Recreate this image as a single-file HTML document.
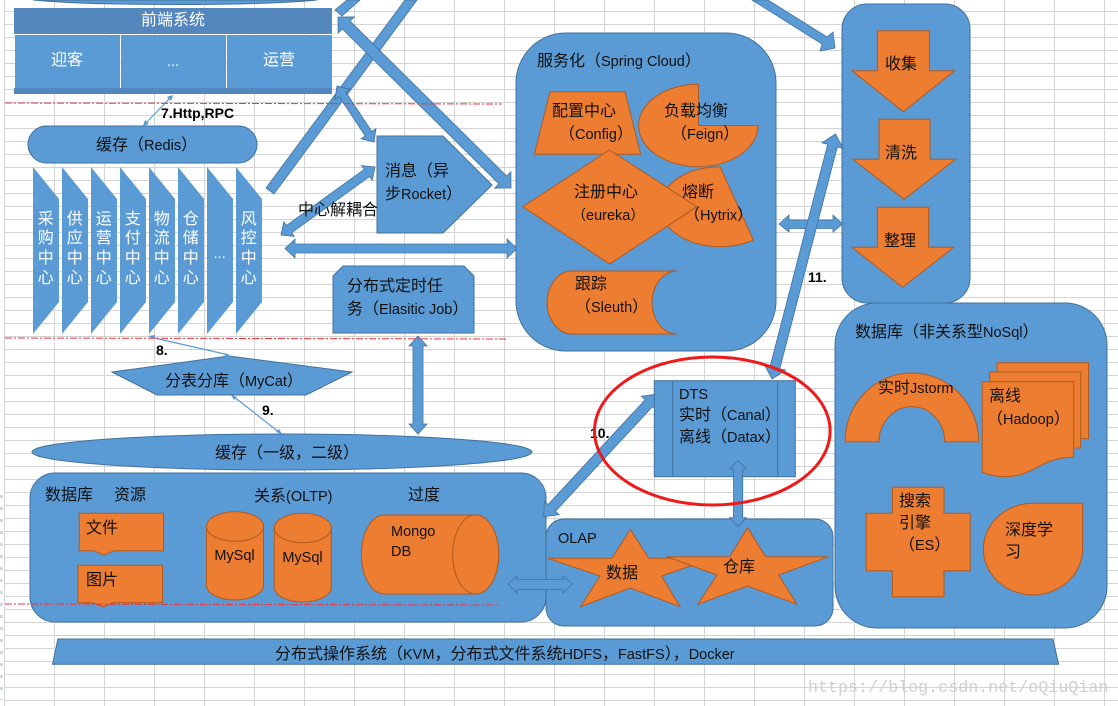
<!DOCTYPE html>
<html><head><meta charset="utf-8"><title>架构图</title>
<style>
html,body{margin:0;padding:0;background:#fff;width:1118px;height:706px;overflow:hidden}
svg{display:block}
text{font-family:"Liberation Sans","Noto Sans CJK SC",sans-serif;font-size:16px;fill:#111}
.l{font-size:14.5px}
.w{fill:#fff}
.c{text-anchor:middle}
.b{font-weight:bold;font-size:14px;fill:#000}
.s{fill:#5b9bd5;stroke:#41719c;stroke-width:1}
.o{fill:#ed7d31;stroke:#ae5a21;stroke-width:1}
.a{fill:#5b9bd5;stroke:#41719c;stroke-width:.8}
.t{fill:none;stroke:#5b9bd5;stroke-width:1.2}
.h{fill:#5b9bd5}
.r{fill:none;stroke:#f4323c;stroke-width:1;stroke-dasharray:7 2 2 2}
</style></head><body>
<svg width="1118" height="706" viewBox="0 0 1118 706" xmlns="http://www.w3.org/2000/svg">
<defs><pattern id="g" x="4" y="11" width="50" height="13" patternUnits="userSpaceOnUse"><path d="M0 .5H50M.5 0V13" stroke="#d4d4d4" fill="none"/></pattern></defs>
<rect width="1118" height="706" fill="#fff"/>
<rect x="4" y="0" width="1114" height="706" fill="url(#g)"/>
<path d="M1.5 495V700" stroke="#a8cbe8" stroke-width="2" stroke-dasharray="3 9"/>

<!-- top remnant -->
<path d="M33 0Q80 4.5 175 4.5T317 0Z" class="s"/>

<!-- front-end -->
<rect x="14" y="8" width="318" height="26" fill="#5487bd"/>
<rect x="15" y="35" width="105" height="53" fill="#5b9bd5"/>
<rect x="121" y="35" width="105" height="53" fill="#5b9bd5"/>
<rect x="227" y="35" width="105" height="53" fill="#5b9bd5"/>
<rect x="14" y="88" width="318" height="6" fill="#5487bd"/>
<text x="173" y="25" class="c w">前端系统</text>
<text x="67" y="65" class="c w">迎客</text>
<text x="173" y="66" class="c w l">...</text>
<text x="279" y="65" class="c w">运营</text>

<!-- thin 7 -->
<path d="M144 125L172 96" class="t"/>
<path d="M143 126l2-6 4 4zM173 95l-6 2 4 4z" class="h"/>
<text x="161" y="118" class="b">7.Http,RPC</text>

<!-- big arrows left-centre -->
<polygon points="335,10 342,16 360,0 347,0" class="a"/>
<polygon points="266,188 274,194 417,0 405,0" class="a"/>
<polygon points="338,17 338.1,33.3 342.3,29 498.9,183.8 494.7,188.1 511,188 510.9,171.7 506.7,176 350.1,21.2 354.3,16.9" class="a"/>
<polygon points="337,86 335,99.3 339.2,96.5 365.2,135.9 361,138.7 374,142 376,128.7 371.8,131.5 345.8,92.1 350,89.3" class="a"/>

<!-- Redis -->
<rect x="28" y="126" width="229" height="37" rx="18.5" ry="18.5" class="s"/>
<text x="96" y="150">缓存（<tspan class="l">Redis</tspan>）</text>

<!-- vertical services -->
<g fill="#5b9bd5">
<polygon points="33,167 59,199 59,302 33,334"/>
<polygon points="62,167 88,199 88,302 62,334"/>
<polygon points="91,167 117,199 117,302 91,334"/>
<polygon points="120,167 146,199 146,302 120,334"/>
<polygon points="149,167 175,199 175,302 149,334"/>
<polygon points="178,167 204,199 204,302 178,334"/>
<polygon points="207,167 233,199 233,302 207,334"/>
<polygon points="236,167 262,199 262,302 236,334"/>
</g>
<g class="c">
<text x="45.7" class="c w"><tspan x="45.7" y="224">采</tspan><tspan x="45.7" y="243">购</tspan><tspan x="45.7" y="263">中</tspan><tspan x="45.7" y="283">心</tspan></text>
<text class="c w"><tspan x="74.7" y="224">供</tspan><tspan x="74.7" y="243">应</tspan><tspan x="74.7" y="263">中</tspan><tspan x="74.7" y="283">心</tspan></text>
<text class="c w"><tspan x="103.7" y="224">运</tspan><tspan x="103.7" y="243">营</tspan><tspan x="103.7" y="263">中</tspan><tspan x="103.7" y="283">心</tspan></text>
<text class="c w"><tspan x="132.7" y="224">支</tspan><tspan x="132.7" y="243">付</tspan><tspan x="132.7" y="263">中</tspan><tspan x="132.7" y="283">心</tspan></text>
<text class="c w"><tspan x="161.7" y="224">物</tspan><tspan x="161.7" y="243">流</tspan><tspan x="161.7" y="263">中</tspan><tspan x="161.7" y="283">心</tspan></text>
<text class="c w"><tspan x="190.7" y="224">仓</tspan><tspan x="190.7" y="243">储</tspan><tspan x="190.7" y="263">中</tspan><tspan x="190.7" y="283">心</tspan></text>
<text x="219.7" y="258" class="c w l">...</text>
<text class="c w"><tspan x="248.7" y="224">风</tspan><tspan x="248.7" y="243">控</tspan><tspan x="248.7" y="263">中</tspan><tspan x="248.7" y="283">心</tspan></text>
</g>

<!-- message -->
<polygon points="377,136 443,136 492,185 443,233 377,233" class="s"/>
<text x="385" y="176">消息（异</text>
<text x="385" y="199">步<tspan class="l">Rocket</tspan>）</text>
<polygon points="375,167 361.6,165.6 364.3,169.3 286.5,225.5 283.8,221.8 281,235 294.4,236.4 291.7,232.7 369.5,176.5 372.2,180.2" class="a"/>
<text x="298" y="215">中心解耦合</text>
<polygon points="285,248.5 295,239 295,244 507,244 507,239 517,248.5 507,258 507,253 295,253 295,258" class="a"/>

<!-- elastic job -->
<polygon points="343,266 464,266 474,276 474,333 333,333 333,276" class="s"/>
<text x="347" y="291">分布式定时任</text>
<text x="347" y="314">务（<tspan class="l">Elasitic Job</tspan>）</text>
<polygon points="418,336 427,346 423,346 423,424 427,424 418,434 409,424 413,424 413,346 409,346" class="a"/>

<!-- services -->
<rect x="516" y="33" width="260" height="318" rx="50" ry="50" class="s"/>
<text x="537" y="66">服务化（<tspan class="l">Spring Cloud</tspan>）</text>
<polygon points="550,91.7 625,91.7 640.6,154.3 534.4,154.3" class="o"/>
<text x="552" y="116">配置中心</text>
<text x="559" y="139">（<tspan class="l">Config</tspan>）</text>
<path d="M698.4 125.5V84.3A59.7 41.2 0 1 0 758 125.5Z" class="o"/>
<text x="664" y="116">负载均衡</text>
<text x="671" y="139">（<tspan class="l">Feign</tspan>）</text>
<path d="M720 166.7A60 40 0 1 0 753.4 240Z" class="o"/>
<polygon points="609.6,150 696.8,206.7 609.6,264 522.8,206.7" class="o"/>
<text x="574" y="197">注册中心</text>
<text x="572" y="220" style="font-size:14px">（<tspan class="l">eureka</tspan>）</text>
<text x="682" y="197">熔断</text>
<text x="684" y="220">（<tspan class="l">Hytrix</tspan>）</text>
<path d="M677.4 271H572C555 271 547 290 547 302.5C547 315 555 334 572 334H677.4C662 334 652 318 652 302.5C652 287 662 271 677.4 271Z" class="o"/>
<text x="575" y="289">跟踪</text>
<text x="575" y="312">（<tspan class="l">Sleuth</tspan>）</text>

<!-- right column -->
<rect x="842" y="4" width="128" height="299" rx="25" ry="25" class="s"/>
<polygon points="877.4,30.7 929.4,30.7 929.4,70.7 954.6,70.7 903.4,111.7 851.9,70.7 877.4,70.7" class="o"/>
<polygon points="879,119.3 930,119.3 930,159.3 955.7,159.3 904,199.3 853,159.3 879,159.3" class="o"/>
<polygon points="877.4,207.3 928.6,207.3 928.6,247.3 953.8,247.3 902.6,287.3 851.9,247.3 877.4,247.3" class="o"/>
<text x="901" y="69" class="c">收集</text>
<text x="901" y="158" class="c">清洗</text>
<text x="900" y="246" class="c">整理</text>

<!-- horizontal + diagonal arrows -->
<polygon points="779,224 789,215 789,220 833,220 833,215 842.6,224 833,232 833,228.5 789,228.5 789,232" class="a"/>
<polygon points="752,0 768,0 827,37 833,32 835,48 820,51 822,44" class="a"/>
<polygon points="835.5,134 821.9,142.8 827.7,144.3 770.2,366.1 764.4,364.6 772,379 785.6,370.2 779.8,368.7 837.3,146.9 843.1,148.4" class="a"/>
<text x="808" y="282" class="b">11.</text>

<!-- NoSQL -->
<rect x="835" y="303" width="272" height="325" rx="42" ry="42" class="s"/>
<text x="855" y="337">数据库（非关系型<tspan class="l">NoSql</tspan>）</text>
<path d="M845 441.7A66.8 68.7 0 0 1 978.6 441.7H944.7A32.8 35 0 0 0 879 441.7Z" class="o"/>
<text x="878" y="393">实时<tspan class="l">Jstorm</tspan></text>
<rect x="997" y="362.7" width="91.5" height="76" class="o"/>
<rect x="989.7" y="372" width="91" height="76" class="o"/>
<path d="M982.3 381.7H1073.7V457.3C1040 457 1035 477 1004.4 476.7C996 476.7 990 475 982.3 472.3Z" class="o"/>
<text x="989" y="401">离线</text>
<text x="987" y="424">（<tspan class="l">Hadoop</tspan>）</text>
<polygon points="892.4,487.3 944,487.3 944,513.3 970.2,513.3 970.2,570.7 944,570.7 944,596.7 892.4,596.7 892.4,570.7 866.2,570.7 866.2,513.3 892.4,513.3" class="o"/>
<text x="899" y="506">搜索</text>
<text x="899" y="528">引擎</text>
<text x="899" y="550">（<tspan class="l">ES</tspan>）</text>
<path d="M1033 503.3H1082.6V549A49.6 45.8 0 1 1 1033 503.3Z" class="o"/>
<text x="1005" y="535">深度学</text>
<text x="1005" y="557">习</text>

<!-- MyCat -->
<polygon points="112,372 229,356 352,372 306,395 157,395" class="s"/>
<text x="165" y="386">分表分库（<tspan class="l">MyCat</tspan>）</text>
<path d="M150 337L229 355M233 396L280 433" class="t"/>
<path d="M148 336l7-1-1 4zM231 356l-6-3 0 5zM231 395l6 2-3 3zM282 434l-6-2 3-3z" class="h"/>
<text x="156" y="355" class="b">8.</text>
<text x="262" y="415" class="b">9.</text>

<!-- cache -->
<ellipse cx="282" cy="452" rx="250" ry="18" class="s"/>
<text x="215" y="458">缓存（一级，二级）</text>

<!-- DB -->
<rect x="30" y="473" width="516" height="149" rx="25" ry="25" class="s"/>
<text x="45" y="500">数据库</text>
<text x="114" y="500">资源</text>
<text x="254" y="501">关系<tspan class="l">(OLTP)</tspan></text>
<text x="408" y="500">过度</text>
<polygon points="79.3,513.3 163.6,513.3 163.6,550.7 114.3,550.7 104,555 93.5,550.7 79.3,550.7" class="o"/>
<polygon points="78,565.3 162.5,565.3 162.5,602.7 113,602.7 103,607 92.5,602.7 78,602.7" class="o"/>
<text x="86" y="533">文件</text>
<text x="86" y="585">图片</text>
<path d="M206.5 526.5A28.5 14.8 0 0 1 263.5 526.5V585.2A28.5 14.8 0 0 1 206.5 585.2Z" class="o"/>
<path d="M206.5 526.5A28.5 14.8 0 0 0 263.5 526.5" fill="none" stroke="#ae5a21"/>
<path d="M274.3 528A28.5 14.8 0 0 1 331.3 528V587.2A28.5 14.8 0 0 1 274.3 587.2Z" class="o"/>
<path d="M274.3 528A28.5 14.8 0 0 0 331.3 528" fill="none" stroke="#ae5a21"/>
<text x="234.5" y="560" class="c l">MySql</text>
<text x="302.5" y="562" class="c l">MySql</text>
<path d="M384.4 515H475.7A23 39.5 0 0 1 475.7 594H384.4A23 39.5 0 0 1 384.4 515Z" class="o"/>
<ellipse cx="475.7" cy="554.5" rx="23" ry="39.5" class="o"/>
<text x="391" y="536" class="l">Mongo</text>
<text x="391" y="556" class="l">DB</text>

<!-- OLAP -->
<rect x="546" y="519" width="287" height="107" rx="18" ry="18" class="s"/>
<text x="558" y="543" class="l">OLAP</text>
<polygon points="508,584 517,576 517,579.5 563,579.5 563,576 572.5,584 563,593 563,589.5 517,589.5 517,593" class="a"/>
<polygon points="630.3,529.5 648.7,558.3 712.5,558.3 661.6,576 680,606.7 630.3,588 580.5,606.7 600,576 548,558.3 612,558.3" class="o"/>
<polygon points="747.5,527.7 765.6,556.7 828.6,556.7 778.5,575 797,604.3 747.5,586 697.8,604.3 717,575 667,556.7 729.8,556.7" class="o"/>
<text x="606" y="578">数据</text>
<text x="723" y="572">仓库</text>

<!-- DTS -->
<polygon points="657,394 641.5,396.3 645.2,399.7 548.1,504.5 544.4,501.1 543.7,516.7 559.2,514.7 555.5,511.3 652.6,406.5 656.3,409.9" class="a"/>
<text x="590" y="438" class="b">10.</text>
<rect x="654.3" y="380.7" width="141" height="96" class="s"/>
<path d="M672.7 381V476M777.7 381V476" stroke="#41719c" fill="none"/>
<text x="679" y="399" class="l">DTS</text>
<text x="679" y="420">实时（<tspan class="l">Canal</tspan>）</text>
<text x="679" y="442">离线（<tspan class="l">Datax</tspan>）</text>
<polygon points="738,460.7 746.4,469 742.7,469 742.7,517.7 746.4,517.7 738,526.7 729.5,517.7 733.5,517.7 733.5,469 729.5,469" class="a"/>
<ellipse cx="712.3" cy="431" rx="117.8" ry="74" fill="none" stroke="#f01818" stroke-width="3"/>

<!-- bottom bar -->
<polygon points="57.9,639 1053,639 1058.6,664.3 52.5,664.3" class="s"/>
<text x="275" y="659">分布式操作系统（<tspan class="l">KVM</tspan>，分布式文件系统<tspan class="l">HDFS</tspan>，<tspan class="l">FastFS</tspan>），<tspan class="l">Docker</tspan></text>

<!-- red separators -->
<path d="M5 103L502 104" class="r"/>
<path d="M5 338L507 339" class="r"/>
<path d="M5 604L500 605" class="r"/>

<!-- watermark -->
<text x="808" y="692" style="font-family:'Liberation Mono',monospace;font-size:16.7px;fill:#cfcfcf">https://blog.csdn.net/oQiuQian</text>
</svg>
</body></html>
